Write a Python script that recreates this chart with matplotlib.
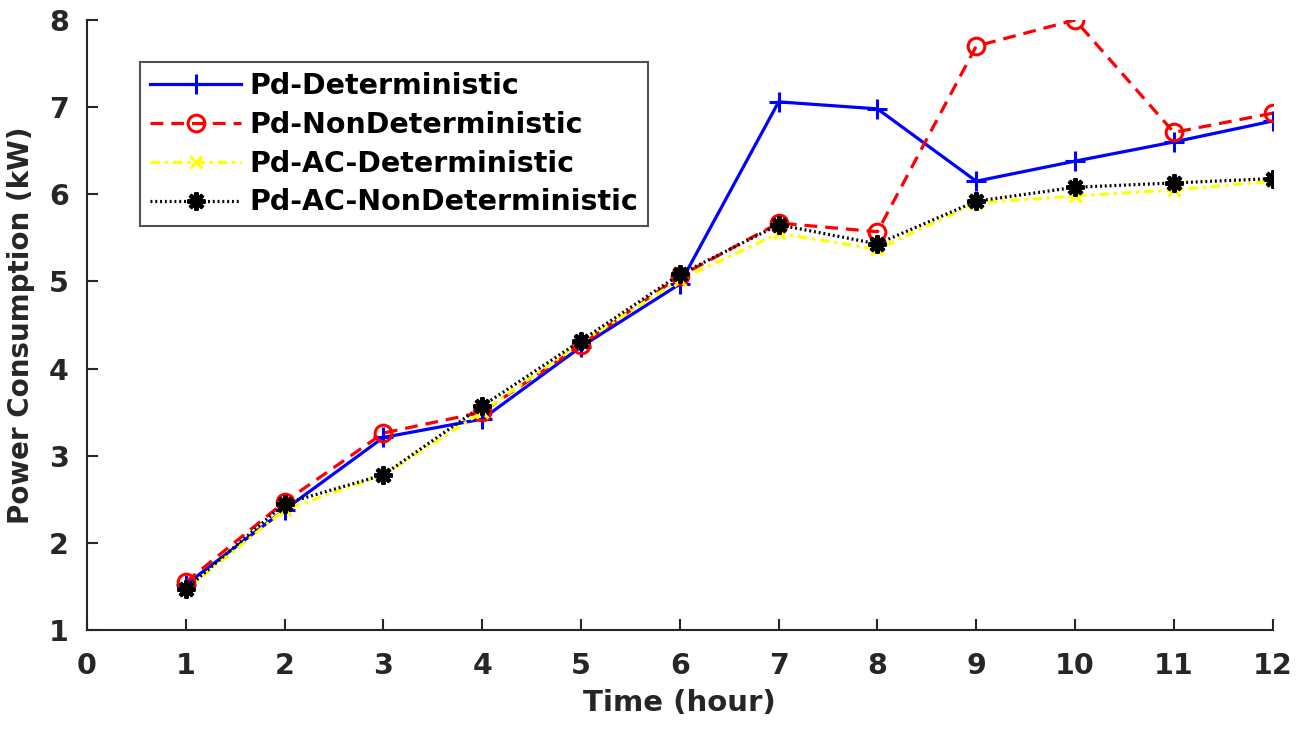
import numpy as np
import matplotlib
matplotlib.use("Agg")
import matplotlib.pyplot as plt

plt.rcParams['font.family'] = ['DejaVu Sans']

hours = [1, 2, 3, 4, 5, 6, 7, 8, 9, 10, 11, 12]
pd_det = [1.52, 2.38, 3.21, 3.42, 4.25, 4.97, 7.06, 6.98, 6.15, 6.38, 6.60, 6.84]
pd_nondet = [1.55, 2.47, 3.26, 3.50, 4.27, 5.06, 5.67, 5.57, 7.70, 8.00, 6.71, 6.93]
pd_ac_det = [1.46, 2.38, 2.78, 3.50, 4.30, 5.02, 5.55, 5.37, 5.90, 5.98, 6.05, 6.15]
pd_ac_nondet = [1.47, 2.45, 2.78, 3.57, 4.32, 5.08, 5.65, 5.43, 5.92, 6.08, 6.13, 6.18]

labels = ["Pd-Deterministic", "Pd-NonDeterministic",
          "Pd-AC-Deterministic", "Pd-AC-NonDeterministic"]

fig = plt.figure(figsize=(13.12, 7.34), dpi=100)
ax = fig.add_axes([0.0663, 0.1417, 0.9037, 0.8311])

ax.plot(hours, pd_det, color="#0000ff", linestyle="-", linewidth=2.3,
        marker="+", markersize=14, markeredgewidth=2.2, label=labels[0])
ax.plot(hours, pd_nondet, color="#ff0000", linestyle=(0, (4, 2.5)), linewidth=2.3,
        marker="o", markersize=12, markerfacecolor="none", markeredgewidth=2.2,
        label=labels[1])
ax.plot(hours, pd_ac_det, color="#ffff00", linestyle=(0, (3, 1.5, 1, 1.5)), linewidth=2.3,
        marker="x", markersize=8, markeredgewidth=2.2, label=labels[2])
ax.plot(hours, pd_ac_nondet, color="black", linestyle=(0, (0.6, 0.9)), linewidth=2.3,
        marker=(8, 2, 0), markersize=13, markeredgewidth=3, label=labels[3])

ax.set_xlim(0, 12)
ax.set_ylim(1, 8)
ax.set_xticks(range(0, 13))
ax.set_yticks(range(1, 9))

for side in ("top", "right"):
    ax.spines[side].set_visible(False)
for side in ("left", "bottom"):
    ax.spines[side].set_color("#262626")
    ax.spines[side].set_linewidth(1.5)

ax.tick_params(direction="in", length=8, width=1.5, colors="#262626", labelsize=20.5)
ax.tick_params(axis="x", pad=16)
ax.tick_params(axis="y", pad=13)
for lbl in ax.get_xticklabels() + ax.get_yticklabels():
    lbl.set_fontweight("bold")

ax.set_xlabel("Time (hour)", fontsize=21, fontweight="bold", color="#262626", labelpad=6)
ax.set_ylabel("Power Consumption (kW)", fontsize=20, fontweight="bold", color="#262626", labelpad=10)

leg = ax.legend(loc="upper left", bbox_to_anchor=(0.0447, 0.931),
                prop={"weight": "bold", "size": 20.5}, frameon=True, fancybox=False,
                edgecolor="#262626", handlelength=3.2, handletextpad=0.3,
                labelspacing=0.38, borderpad=0.35, borderaxespad=0)
leg.get_frame().set_linewidth(1.5)

fig.savefig("out.png", dpi=100)
